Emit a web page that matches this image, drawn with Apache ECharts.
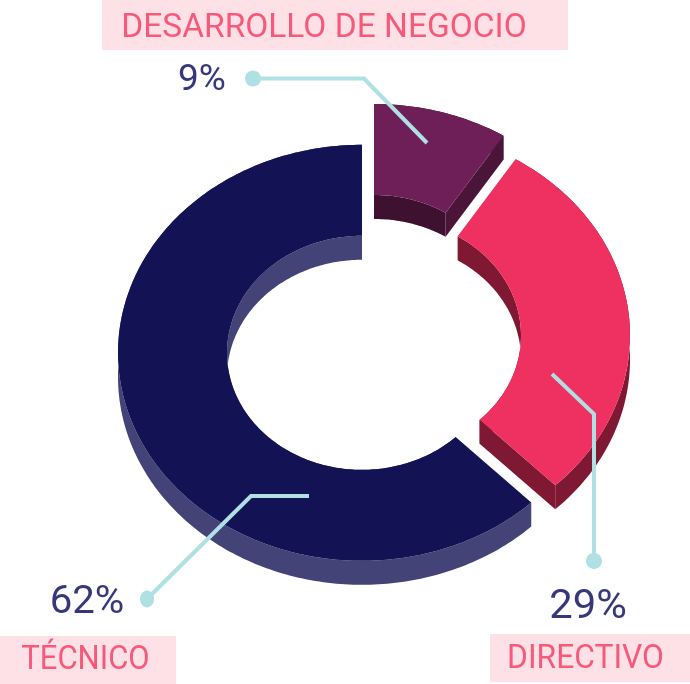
<!DOCTYPE html>
<html><head><meta charset="utf-8">
<style>html,body{margin:0;padding:0;background:#fff}#c{width:690px;height:684px}</style>
<script src="https://cdn.jsdelivr.net/npm/echarts@6/dist/echarts.min.js"></script>
</head><body><div id="c"></div>
<script>
const categories = ['DESARROLLO DE NEGOCIO', 'DIRECTIVO', 'TÉCNICO'];
const values = [8.9, 28.9, 62.2];

const RX = 244, RY = 208, IRX = 135, IRY = 117, DEPTH = 24;
const centers = [[374, 312], [386, 335.5], [362, 352.8]];
const palette = [
  {top:'#6f1f58', inner:'#3f1131', outer:'#4b1439', end:'#4b1439'},
  {top:'#ee3160', inner:'#7f1832', outer:'#7f1832', end:'#7f1832'},
  {top:'#121254', inner:'#434378', outer:'#434378', end:'#434378'}
];
const leaders = [
  {pts:[[427,143],[364,78.5],[253,78.5]], rx:8, ry:8},
  {pts:[[552,374],[594,414],[594,561]], rx:8, ry:8},
  {pts:[[309,496],[251,496],[147,599]], rx:7, ry:8.5}
];
const pctText = [
  {x:202, y:81, size:37, sx:1},
  {x:588, y:608, size:41, sx:1.02},
  {x:87, y:603, size:39, sx:1.03}
];
const labelBox = [
  {x:102, y:0, w:466, h:50, tx:324, ty:29, size:33, sx:1.015},
  {x:490, y:634, w:200, h:48, tx:585.5, ty:660, size:33, sx:0.963},
  {x:0, y:636, w:176, h:48, tx:85.5, ty:661, size:33, sx:0.94}
];
const total = values.reduce((a,b)=>a+b,0);
const starts = values.map((_,i)=>values.slice(0,i).reduce((a,b)=>a+b,0)/total*360);

function pt(c, rx, ry, deg, dy){
  const a = deg*Math.PI/180;
  return [c[0]+rx*Math.sin(a), c[1]-ry*Math.cos(a)+(dy||0)];
}
function arc(c, rx, ry, a0, a1, dy){
  const n = Math.max(2, Math.ceil(Math.abs(a1-a0)));
  const out = [];
  for(let i=0;i<=n;i++) out.push(pt(c, rx, ry, a0+(a1-a0)*i/n, dy));
  return out;
}
function poly(points, fill){
  return {type:'polygon', shape:{points}, style:{fill, stroke:null}};
}

const chart = echarts.init(document.getElementById('c'), null, {renderer:'canvas'});
chart.setOption({
  animation:false,
  backgroundColor:'#ffffff',
  series:[
    {
      type:'custom', coordinateSystem:'none', silent:true, z:1,
      data: values.map((v,i)=>({name:categories[i], value:[v]})),
      renderItem(params, api){
        const i = params.dataIndex, c = centers[i], col = palette[i];
        const a0 = starts[i], a1 = a0 + api.value(0)/total*360;
        const strip = (rx,ry,color)=>poly(arc(c,rx,ry,a0,a1,0).concat(arc(c,rx,ry,a1,a0,DEPTH)),color);
        const endFace = poly([pt(c,IRX,IRY,a1,0),pt(c,RX,RY,a1,0),pt(c,RX,RY,a1,DEPTH),pt(c,IRX,IRY,a1,DEPTH)],col.end);
        const top = poly(arc(c,RX,RY,a0,a1,0).concat(arc(c,IRX,IRY,a1,a0,0)),col.top);
        return {type:'group', children:[strip(RX,RY,col.outer), strip(IRX,IRY,col.inner), endFace, top]};
      }
    },
    {
      type:'custom', coordinateSystem:'none', silent:true, z:2,
      data: values.map((v,i)=>({name:categories[i], value:[v]})),
      renderItem(params, api){
        const i = params.dataIndex, L = leaders[i], P = pctText[i], B = labelBox[i];
        const dot = L.pts[L.pts.length-1];
        return {type:'group', children:[
          {type:'polyline', shape:{points:L.pts}, style:{stroke:'#aee0e4', lineWidth:4, fill:null, lineJoin:'miter', lineCap:'butt'}},
          {type:'ellipse', shape:{cx:dot[0], cy:dot[1], rx:L.rx, ry:L.ry}, style:{fill:'#aee0e4'}},
          {type:'text', x:P.x, y:P.y, scaleX:P.sx, style:{text:Math.round(api.value(0))+'%', x:0, y:0, align:'center', verticalAlign:'middle', fill:'#36387a', font:'400 '+P.size+'px Roboto'}},
          {type:'rect', shape:{x:B.x, y:B.y, width:B.w, height:B.h}, style:{fill:'#fde1e7'}},
          {type:'text', x:B.tx, y:B.ty, scaleX:B.sx, style:{text:categories[i], x:0, y:0, align:'center', verticalAlign:'middle', fill:'#f7597a', font:'400 '+B.size+'px Roboto'}}
        ]};
      }
    }
  ]
});
</script></body></html>
